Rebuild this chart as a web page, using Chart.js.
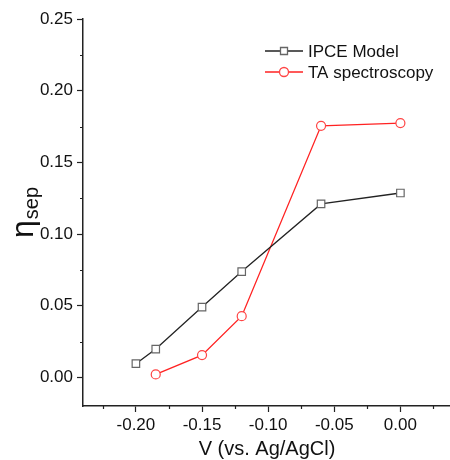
<!DOCTYPE html>
<html>
<head>
<meta charset="utf-8">
<script src="https://cdn.jsdelivr.net/npm/chart.js@4"></script>
<style>
  html, body { margin: 0; padding: 0; background: #fff; overflow: hidden; }
  canvas { display: block; }
</style>
</head>
<body>
<canvas id="chart" width="450" height="460"></canvas>
<script>
const ipcePotential = [-0.20, -0.185, -0.15, -0.12, -0.06, 0.00];
const ipceModel = [0.0095, 0.0197, 0.049, 0.0738, 0.121, 0.1286];
const taPotential = [-0.185, -0.15, -0.12, -0.06, 0.00];
const taSpectroscopy = [0.002, 0.0155, 0.0427, 0.1755, 0.1774];
const seriesNames = ["IPCE Model", "TA spectroscopy"];
const xTicks = [-0.20, -0.15, -0.10, -0.05, 0.00];
const xMinorTicks = [-0.225, -0.175, -0.125, -0.075, -0.025, 0.025];
const yTicks = [0, 0.05, 0.10, 0.15, 0.20, 0.25];
const yMinorTicks = [0.025, 0.075, 0.125, 0.175, 0.225];

const FONT = '"Liberation Sans", Arial, sans-serif';
const AXIS = "#222";

const decorations = {
  id: "decorations",
  afterDraw(chart) {
    const ctx = chart.ctx;
    const xs = chart.scales.x, ys = chart.scales.y;
    const area = chart.chartArea;
    ctx.save();
    // minor ticks
    ctx.strokeStyle = AXIS;
    ctx.lineWidth = 1.2;
    ctx.beginPath();
    xMinorTicks.forEach(v => {
      const px = Math.round(xs.getPixelForValue(v)) + 0.5;
      ctx.moveTo(px, area.bottom);
      ctx.lineTo(px, area.bottom + 3);
    });
    yMinorTicks.forEach(v => {
      const py = Math.round(ys.getPixelForValue(v)) + 0.5;
      ctx.moveTo(area.left, py);
      ctx.lineTo(area.left - 3, py);
    });
    ctx.stroke();

    // axis titles
    ctx.fillStyle = "#111";
    ctx.font = "20px " + FONT;
    ctx.textAlign = "center";
    ctx.textBaseline = "middle";
    ctx.fillText("V (vs. Ag/AgCl)", 267, 449);

    ctx.save();
    ctx.translate(33, 210);
    ctx.rotate(-Math.PI / 2);
    ctx.textAlign = "left";
    ctx.textBaseline = "alphabetic";
    ctx.font = "32px " + FONT;
    const w = ctx.measureText("\u03b7").width;
    ctx.fillText("\u03b7", -28, 0);
    ctx.font = "20px " + FONT;
    ctx.fillText("sep", -28 + w + 1, 5);
    ctx.restore();

    // legend
    ctx.font = "17px " + FONT;
    ctx.textAlign = "left";
    ctx.textBaseline = "middle";
    chart.data.datasets.forEach((ds, i) => {
      const y = 51 + i * 21;
      ctx.strokeStyle = ds.borderColor;
      ctx.lineWidth = 1.3;
      ctx.beginPath();
      ctx.moveTo(265, y);
      ctx.lineTo(303, y);
      ctx.stroke();
      ctx.fillStyle = "#fff";
      ctx.strokeStyle = ds.pointBorderColor;
      ctx.beginPath();
      if (ds.pointStyle === "rect") {
        ctx.rect(280.5, y - 3.5, 7, 7);
      } else {
        ctx.arc(284, y, 4.5, 0, Math.PI * 2);
      }
      ctx.fill();
      ctx.stroke();
      ctx.fillStyle = "#111";
      ctx.fillText(seriesNames[i], 308, y + 1);
    });
    ctx.restore();
  }
};

const toPoints = (xv, yv) => xv.map((x, i) => ({ x: x, y: yv[i] }));

new Chart(document.getElementById("chart"), {
  type: "scatter",
  data: {
    datasets: [
      {
        label: seriesNames[0],
        data: toPoints(ipcePotential, ipceModel),
        showLine: true,
        borderColor: "#222",
        borderWidth: 1.3,
        pointStyle: "rect",
        pointRadius: 5.3,
        pointBorderColor: "#666",
        pointBackgroundColor: "#fff",
        pointBorderWidth: 1.2
      },
      {
        label: seriesNames[1],
        data: toPoints(taPotential, taSpectroscopy),
        showLine: true,
        borderColor: "#f22",
        borderWidth: 1.3,
        pointStyle: "circle",
        pointRadius: 4.5,
        pointBorderColor: "#f44",
        pointBackgroundColor: "#fff",
        pointBorderWidth: 1.2
      }
    ]
  },
  options: {
    responsive: false,
    animation: false,
    layout: { autoPadding: false, padding: { left: 0, top: 19, right: 0, bottom: 0 } },
    scales: {
      x: {
        type: "linear",
        min: -0.24,
        max: 0.0375,
        afterBuildTicks: s => { s.ticks = xTicks.map(v => ({ value: v })); },
        afterFit: s => { s.height = 54; s.paddingRight = 0; s.paddingLeft = 0; },
        ticks: {
          color: "#111",
          font: { family: FONT, size: 17 },
          padding: 3,
          maxRotation: 0,
          callback: v => v.toFixed(2)
        },
        grid: { drawOnChartArea: false, drawTicks: true, tickLength: 6, color: AXIS, tickWidth: 1.2 },
        border: { display: true, color: AXIS, width: 1.5 }
      },
      y: {
        min: -0.02,
        max: 0.25,
        afterBuildTicks: s => { s.ticks = yTicks.map(v => ({ value: v })); },
        afterFit: s => { s.width = 83; },
        ticks: {
          color: "#111",
          font: { family: FONT, size: 17 },
          padding: 4,
          callback: v => v.toFixed(2)
        },
        grid: { drawOnChartArea: false, drawTicks: true, tickLength: 6, color: AXIS, tickWidth: 1.2 },
        border: { display: true, color: AXIS, width: 1.5 }
      }
    },
    plugins: {
      legend: { display: false },
      tooltip: { enabled: false }
    }
  },
  plugins: [decorations]
});
</script>
</body>
</html>
